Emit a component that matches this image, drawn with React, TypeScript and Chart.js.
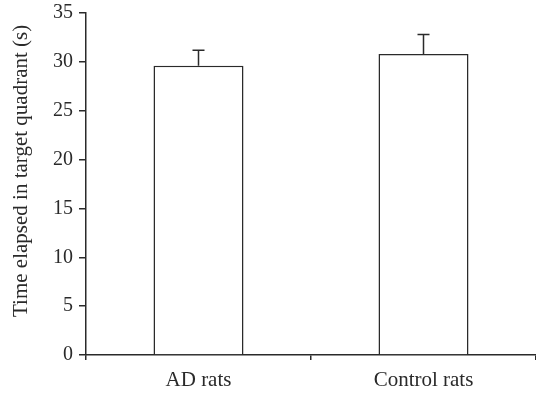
import React, { useEffect, useRef } from "react";
import { Chart, registerables } from "chart.js";

Chart.register(...registerables);

const categories = ["AD rats", "Control rats"];
const means = [29.6, 30.8];
const errors = [1.6, 2.0];
const yTicks = [0, 5, 10, 15, 20, 25, 30, 35];
const yTitle = "Time elapsed in target quadrant (s)";

const INK = "#2a2a2a";
const FONT = "'Liberation Serif', 'Times New Roman', serif";

const errorBarPlugin = {
  id: "errorBars",
  afterDatasetsDraw(chart: any) {
    const { ctx } = chart;
    const meta = chart.getDatasetMeta(0);
    const yScale = chart.scales.y;
    ctx.save();
    ctx.strokeStyle = INK;
    ctx.lineWidth = 1.5;
    meta.data.forEach((bar: any, i: number) => {
      const x = bar.x;
      const yTop = yScale.getPixelForValue(means[i] + errors[i]);
      const yBase = yScale.getPixelForValue(means[i]);
      ctx.beginPath();
      ctx.moveTo(x, yBase);
      ctx.lineTo(x, yTop);
      ctx.moveTo(x - 6, yTop);
      ctx.lineTo(x + 6, yTop);
      ctx.stroke();
    });
    ctx.restore();
  },
};

export default function App() {
  const ref = useRef<HTMLCanvasElement>(null);
  useEffect(() => {
    document.body.style.margin = "0";
    const chart = new Chart(ref.current!, {
      type: "bar",
      data: {
        labels: categories,
        datasets: [
          {
            data: means,
            backgroundColor: "#ffffff",
            borderColor: INK,
            borderWidth: 1.5,
            categoryPercentage: 1,
            barPercentage: 0.4,
          },
        ],
      },
      plugins: [errorBarPlugin],
      options: {
        animation: false,
        responsive: false,
        layout: { padding: { top: 13, right: 0, left: 0, bottom: 0 } },
        plugins: { legend: { display: false }, tooltip: { enabled: false } },
        scales: {
          x: {
            grid: { display: true, drawOnChartArea: false, drawTicks: true, tickLength: 5, color: INK, lineWidth: 1.5 },
            border: { display: true, color: INK, width: 1.5 },
            ticks: { color: INK, font: { family: FONT, size: 21 }, padding: 8 },
            afterFit: (s: any) => { s.height = 39; s.paddingLeft = 0; s.paddingRight = 0; },
          },
          y: {
            min: 0,
            max: 35,
            afterBuildTicks: (s: any) => { s.ticks = yTicks.map((v) => ({ value: v })); },
            grid: { display: true, drawOnChartArea: false, drawTicks: true, tickLength: 7, color: INK, lineWidth: 1.5 },
            border: { display: true, color: INK, width: 1.5 },
            ticks: { color: INK, font: { family: FONT, size: 20 }, padding: 6 },
            title: { display: true, text: "     " + yTitle, color: INK, font: { family: FONT, size: 21 }, padding: 9 },
            afterFit: (s: any) => { s.width = 86; s.paddingTop = 0; s.paddingBottom = 0; },
          },
        },
      },
    });
    return () => chart.destroy();
  }, []);
  return <canvas ref={ref} width={536} height={394} style={{ display: "block" }} />;
}
